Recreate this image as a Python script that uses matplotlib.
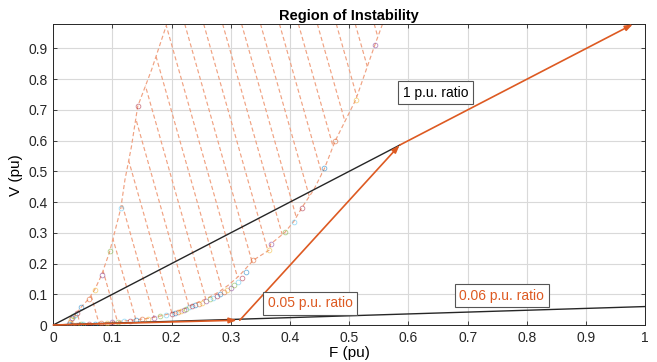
import matplotlib.pyplot as plt
import numpy as np
from matplotlib.patches import Polygon

# Region boundary (left edge, bottom to top)
left_F = [0.030, 0.032, 0.036, 0.047, 0.060, 0.070, 0.081, 0.095, 0.114, 0.121, 0.132, 0.1426, 0.166, 0.1916]
left_V = [0.000, 0.015, 0.030, 0.058, 0.085, 0.115, 0.160, 0.237, 0.379, 0.472, 0.580, 0.711, 0.830, 0.978]

# Region boundary (right edge, bottom to top)
right_F = [0.030, 0.050, 0.079, 0.107, 0.130, 0.163, 0.185, 0.208, 0.225, 0.239, 0.252, 0.265, 0.280,
           0.296, 0.314, 0.338, 0.365, 0.367, 0.391, 0.406, 0.420, 0.440, 0.458, 0.476, 0.511, 0.543, 0.556]
right_V = [0.000, 0.002, 0.0055, 0.011, 0.015, 0.022, 0.031, 0.043, 0.055, 0.070, 0.080, 0.092, 0.108,
           0.130, 0.160, 0.211, 0.244, 0.263, 0.301, 0.336, 0.382, 0.440, 0.509, 0.598, 0.733, 0.910, 0.978]

# Computed points along the boundary
pts_F = [0.026, 0.028, 0.030, 0.032, 0.034, 0.036, 0.040, 0.047, 0.060, 0.070, 0.082, 0.096, 0.114, 0.1426,
         0.030, 0.034, 0.038, 0.042, 0.046, 0.050, 0.060, 0.070, 0.080, 0.090, 0.100, 0.110, 0.120,
         0.130, 0.140, 0.150, 0.160, 0.170, 0.180, 0.190, 0.200, 0.205, 0.210, 0.215, 0.220, 0.225,
         0.230, 0.235, 0.240, 0.246, 0.252, 0.258, 0.264, 0.270, 0.276, 0.282, 0.288, 0.294, 0.300,
         0.306, 0.312, 0.318, 0.326, 0.338, 0.365, 0.367, 0.391, 0.406, 0.420, 0.458, 0.476, 0.511, 0.543]
pts_V = [0.002, 0.010, 0.018, 0.024, 0.028, 0.032, 0.040, 0.058, 0.085, 0.115, 0.162, 0.241, 0.379, 0.711,
         0.001, 0.001, 0.001, 0.001, 0.002, 0.002, 0.003, 0.004, 0.005, 0.007, 0.009, 0.010, 0.012,
         0.014, 0.016, 0.018, 0.021, 0.024, 0.028, 0.032, 0.037, 0.040, 0.043, 0.046, 0.050, 0.053,
         0.057, 0.061, 0.065, 0.069, 0.073, 0.078, 0.083, 0.088, 0.094, 0.100, 0.106, 0.113, 0.121,
         0.130, 0.140, 0.153, 0.172, 0.211, 0.244, 0.263, 0.301, 0.336, 0.382, 0.509, 0.598, 0.733, 0.910]

# Operating ratio lines and the path between them
ratio_1pu = ([0.0, 0.585], [0.0, 0.585])
ratio_006 = ([0.0, 1.0], [0.0, 0.06])
path_F = [0.0, 0.310, 0.315, 0.585, 0.585, 0.979]
path_V = [0.0, 0.0155, 0.0155, 0.585, 0.585, 0.978]

labels = ["1 p.u. ratio", "0.05 p.u. ratio", "0.06 p.u. ratio"]
label_pos = [(0.590, 0.756), (0.362, 0.070), (0.686, 0.095)]

ml_colors = ['#0072BD', '#D95319', '#EDB120', '#7E2F8E', '#77AC30', '#4DBEEE', '#A2142F']
orange = '#DD5A22'
hatch_col = '#F0A282'
dash = (0, (3.5, 2.2))

plt.rcParams['font.family'] = ['Liberation Sans', 'DejaVu Sans']
fig = plt.figure(figsize=(6.57, 3.62), dpi=100)
ax = fig.add_axes([0.0811, 0.1022, 0.9011, 0.8307])

# hatched region: dashed lines clipped to the boundary polygon
poly_xy = np.column_stack([left_F + right_F[::-1], left_V + right_V[::-1]])
region = Polygon(poly_xy, closed=True, facecolor='none', edgecolor='none')
ax.add_patch(region)
slope = 6.8
for c in np.arange(0.334 - 10 * 0.032, 0.75, 0.032):
    hx = np.array([c - 1.0 / slope, c + 0.01])
    hy = -slope * (hx - c)
    ln, = ax.plot(hx, hy, color=hatch_col, lw=0.85, ls=dash, zorder=2)
    ln.set_clip_path(region)

ax.plot(left_F, left_V, color=hatch_col, lw=0.85, ls=dash, zorder=2)
ax.plot(right_F, right_V, color=hatch_col, lw=0.85, ls=dash, zorder=2)

for i, (f, v) in enumerate(zip(pts_F, pts_V)):
    ax.plot(f, v, 'o', ms=3.4, mfc='none', mew=0.6, alpha=0.55,
            mec=ml_colors[i % len(ml_colors)], zorder=3)

ax.plot(*ratio_1pu, color='#262626', lw=1.0, zorder=4)
ax.plot(*ratio_006, color='#262626', lw=1.0, zorder=4)

for i in range(0, len(path_F), 2):
    ax.annotate('', xy=(path_F[i + 1], path_V[i + 1]), xytext=(path_F[i], path_V[i]),
                arrowprops=dict(arrowstyle='-|>,head_length=0.45,head_width=0.16',
                                color=orange, lw=1.2, shrinkA=0, shrinkB=0),
                zorder=5)

for txt, (x, y), col in zip(labels, label_pos, ['#000000', orange, orange]):
    ax.text(x, y, txt, color=col, fontsize=10, va='center', ha='left', zorder=6,
            bbox=dict(boxstyle='square,pad=0.32', fc='white', ec='#555555', lw=0.8))

ax.set_xlim(0, 1)
ax.set_ylim(0, 0.978)
ax.set_xticks(np.arange(0, 1.01, 0.1))
ax.set_xticklabels(['0', '0.1', '0.2', '0.3', '0.4', '0.5', '0.6', '0.7', '0.8', '0.9', '1'])
ax.set_yticks(np.arange(0, 0.91, 0.1))
ax.set_yticklabels(['0', '0.1', '0.2', '0.3', '0.4', '0.5', '0.6', '0.7', '0.8', '0.9'])
ax.tick_params(direction='in', length=3, width=0.6, colors='#262626', labelsize=10,
               top=True, right=True, pad=4)
ax.grid(True, color='#d9d9d9', lw=0.8)
ax.set_axisbelow(True)
for s in ax.spines.values():
    s.set_color('#262626')
    s.set_linewidth(0.7)

ax.set_title('Region of Instability', fontsize=10.5, fontweight='bold', pad=3)
ax.set_xlabel('F (pu)', fontsize=11, labelpad=1)
ax.set_ylabel('V (pu)', fontsize=11, labelpad=4)

fig.savefig('out.png', dpi=100)
